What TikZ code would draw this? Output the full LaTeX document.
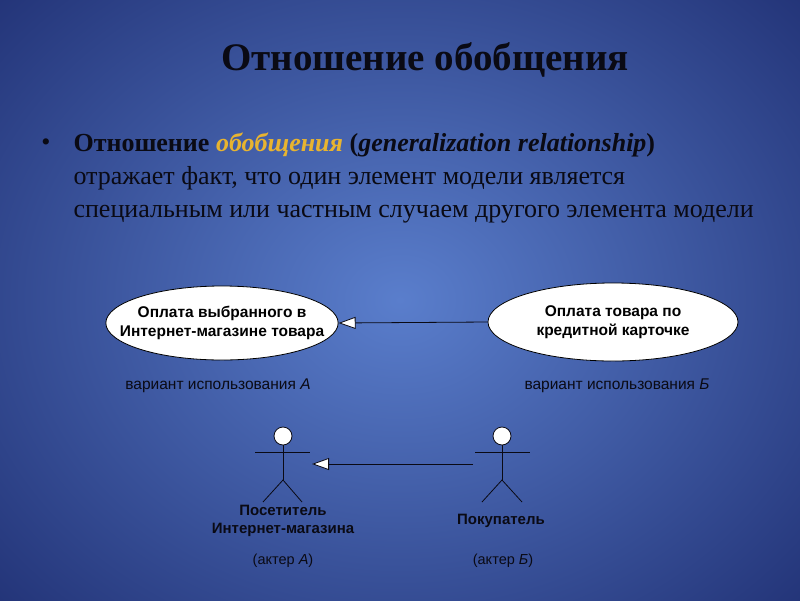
\documentclass[tikz,border=0pt]{standalone}
\usepackage{fontspec}
\setmainfont{Liberation Serif}
\setsansfont{Liberation Sans}
\usetikzlibrary{shapes.geometric,arrows.meta}
\definecolor{bgin}{HTML}{5A7ECC}
\definecolor{bgout}{HTML}{233478}
\definecolor{hl}{HTML}{E8B430}
\definecolor{ink}{HTML}{0A0A14}
\tikzset{
 uc/.style={ellipse,draw=black,fill=white,line width=0.8pt,font=\sffamily\bfseries\fontsize{15.5}{19}\selectfont,align=center,inner sep=-20pt},
 gen/.style={-{Triangle[open,length=17pt,width=12pt,fill=white]},line width=0.8pt,draw=ink},
 lbl/.style={font=\sffamily\fontsize{15.5}{18}\selectfont,text=ink},
 act/.style={line width=0.8pt,draw=ink},
}
\begin{document}
\begin{tikzpicture}[x=1pt,y=-1pt]
\useasboundingbox (0,0) rectangle (800,600);
\begin{scope}
\clip (0,0) rectangle (800,600);
\shade[inner color=bgin,outer color=bgout] (-150,-150) rectangle (950,750);
\end{scope}
\node[font=\bfseries\fontsize{39}{44}\selectfont,text=ink] (title) at (425,60) {Отношение обобщения};
\node[font=\fontsize{26}{30}\selectfont,text=ink,anchor=north west,align=left] (txt) at (70,129)
 {\textbf{Отношение \textcolor{hl}{\textit{обобщения}} (\textit{generalization relationship})}\\[3pt]
 отражает факт, что один элемент модели является\\[3pt]
 специальным или частным случаем другого элемента модели};
\node[font=\fontsize{26}{30}\selectfont,text=ink] (bul) at (46,145) {•};
\node[uc,minimum width=232,minimum height=74] (ucA) at (222,323) {Оплата выбранного в\\Интернет-магазине товара};
\node[uc,minimum width=250,minimum height=78] (ucB) at (613,322) {Оплата товара по\\кредитной карточке};
\draw[gen] (ucB.west) -- (ucA.east);
\node[lbl] (lA) at (218,386) {вариант использования \textit{А}};
\node[lbl] (lB) at (617,386) {вариант использования \textit{Б}};
% actor A
\node[circle,draw=ink,fill=white,line width=0.8pt,minimum size=18,inner sep=0] (hA) at (283,436) {};
\coordinate (aA) at (283,480);
\draw[act] (hA.south) -- (aA);
\draw[act] (255,452) -- (310,452);
\draw[act] (263,502) -- (aA) -- (302,502);
% actor B
\node[circle,draw=ink,fill=white,line width=0.8pt,minimum size=18,inner sep=0] (hB) at (502,436) {};
\coordinate (aB) at (502,480);
\draw[act] (hB.south) -- (aB);
\draw[act] (475,452) -- (530,452);
\draw[act] (482,502) -- (aB) -- (522,502);
\coordinate (gs) at (473,464);
\coordinate (ge) at (312,464);
\draw[gen] (gs) -- (ge);
\node[lbl,font=\sffamily\bfseries\fontsize{15}{18}\selectfont,align=center] (nA) at (283,521) {Посетитель\\Интернет-магазина};
\node[lbl,font=\sffamily\bfseries\fontsize{15}{18}\selectfont] (nB) at (501,521) {Покупатель};
\node[lbl,font=\sffamily\fontsize{14.5}{17}\selectfont] (kA) at (283,561) {(актер \textit{А})};
\node[lbl,font=\sffamily\fontsize{14.5}{17}\selectfont] (kB) at (503,561) {(актер \textit{Б})};
\end{tikzpicture}
\end{document}
